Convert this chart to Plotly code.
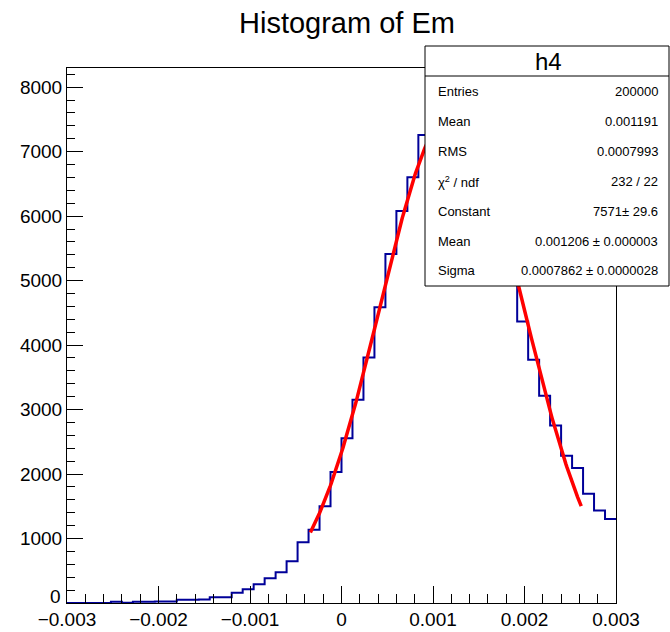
import numpy as np
import plotly.graph_objects as go

# ---- data ----
x_min = -0.003
x_max = 0.003
n_bins = 50
counts = [0, 0, 0, 0, 20, 5, 21, 21, 22, 22,
          52, 52, 55, 90, 90, 158, 212, 292, 383, 476,
          646, 941, 1137, 1499, 2030, 2555, 3151, 3807, 4588, 5414,
          6081, 6603, 7259, 7520, 7800, 7900, 7650, 7250, 6650, 5950,
          5150, 4365, 3771, 3213, 2753, 2283, 2092, 1694, 1435, 1302]

fit_constant = 7571.0
fit_mean = 0.001206
fit_sigma = 0.0007862
fit_range = [-0.00034, 0.00262]

stats_title = "h4"
stats_labels = ["Entries", "Mean", "RMS", "χ<sup>2</sup> / ndf", "Constant", "Mean", "Sigma"]
stats_values = ["200000", "0.001191", "0.0007993", "232 / 22", "7571± 29.6",
                "0.001206 ± 0.000003", "0.0007862 ± 0.0000028"]

y_max = 8297
y_zero_label = "0"

# ---- geometry (pixels) ----
W, H = 670, 632
L, R, T, B = 67, 54, 68, 29
PW = W - L - R
PH = H - T - B


def px(xp):
    return (xp - L) / PW


def py(yp):
    return (H - B - yp) / PH


FONT = "Liberation Sans, Arial, Helvetica, sans-serif"

bw = (x_max - x_min) / n_bins
edges = [x_min + i * bw for i in range(n_bins + 1)]
step_y = list(counts) + [counts[-1]]

fx = np.linspace(fit_range[0], fit_range[1], 300)
fy = fit_constant * np.exp(-0.5 * ((fx - fit_mean) / fit_sigma) ** 2)

fig = go.Figure()
fig.add_trace(go.Scatter(x=edges, y=step_y, mode="lines", line_shape="hv",
                         line=dict(color="rgb(0,0,153)", width=2), showlegend=False,
                         hoverinfo="skip"))
fig.add_trace(go.Scatter(x=fx, y=fy, mode="lines",
                         line=dict(color="rgb(255,0,0)", width=3.5), showlegend=False,
                         hoverinfo="skip"))

axis_common = dict(showline=True, mirror=True, linecolor="black", linewidth=1,
                   showgrid=False, zeroline=False, ticks="inside", tickcolor="black",
                   tickwidth=1, automargin=False,
                   tickfont=dict(family=FONT, size=19, color="black"))

fig.update_xaxes(range=[x_min, x_max], tickmode="linear", tick0=-0.003, dtick=0.001,
                 ticklen=17, ticklabelstandoff=-1,
                 minor=dict(ticks="inside", ticklen=9, dtick=0.0002, tick0=-0.003,
                            tickcolor="black", tickwidth=1, showgrid=False),
                 **axis_common)
fig.update_yaxes(range=[0, y_max], tickmode="linear", tick0=0, dtick=1000,
                 ticklen=16, labelalias={"0": " "},
                 minor=dict(ticks="inside", ticklen=8, dtick=200, tick0=0,
                            tickcolor="black", tickwidth=1, showgrid=False),
                 **axis_common)

shapes = [
    dict(type="rect", xref="paper", yref="paper", x0=px(425), x1=px(669),
         y0=py(286), y1=py(46), fillcolor="white", line=dict(color="black", width=1),
         layer="above"),
    dict(type="line", xref="paper", yref="paper", x0=px(425), x1=px(669),
         y0=py(76), y1=py(76), line=dict(color="black", width=1), layer="above"),
]

annotations = [
    dict(text=stats_title, xref="paper", yref="paper", x=px(548), y=py(61),
         xanchor="center", yanchor="middle", showarrow=False,
         font=dict(family=FONT, size=24, color="black")),
    # y-axis zero label, raised slightly as in the reference
    dict(text=y_zero_label, xref="paper", yref="paper", x=px(63), y=py(596),
         xanchor="right", yanchor="middle", showarrow=False,
         font=dict(family=FONT, size=19, color="black")),
]
row_y = [91.7, 121.5, 151.5, 181.5, 211.5, 241.5, 270.5]
for lab, val, yy in zip(stats_labels, stats_values, row_y):
    annotations.append(dict(text=lab, xref="paper", yref="paper", x=px(436),
                            y=py(yy), xanchor="left", yanchor="middle", showarrow=False,
                            font=dict(family=FONT, size=13, color="black")))
    annotations.append(dict(text=val, xref="paper", yref="paper", x=px(660),
                            y=py(yy), xanchor="right", yanchor="middle", showarrow=False,
                            font=dict(family=FONT, size=13, color="black")))

fig.update_layout(
    width=W, height=H,
    margin=dict(l=L, r=R, t=T, b=B, pad=0, autoexpand=False),
    paper_bgcolor="white", plot_bgcolor="white",
    title=dict(text="Histogram of Em", x=347 / W, xanchor="center",
               y=1 - 23 / H, yanchor="middle",
               font=dict(family=FONT, size=29, color="black")),
    shapes=shapes,
    annotations=annotations,
    showlegend=False,
)

fig.write_html("out.html")
